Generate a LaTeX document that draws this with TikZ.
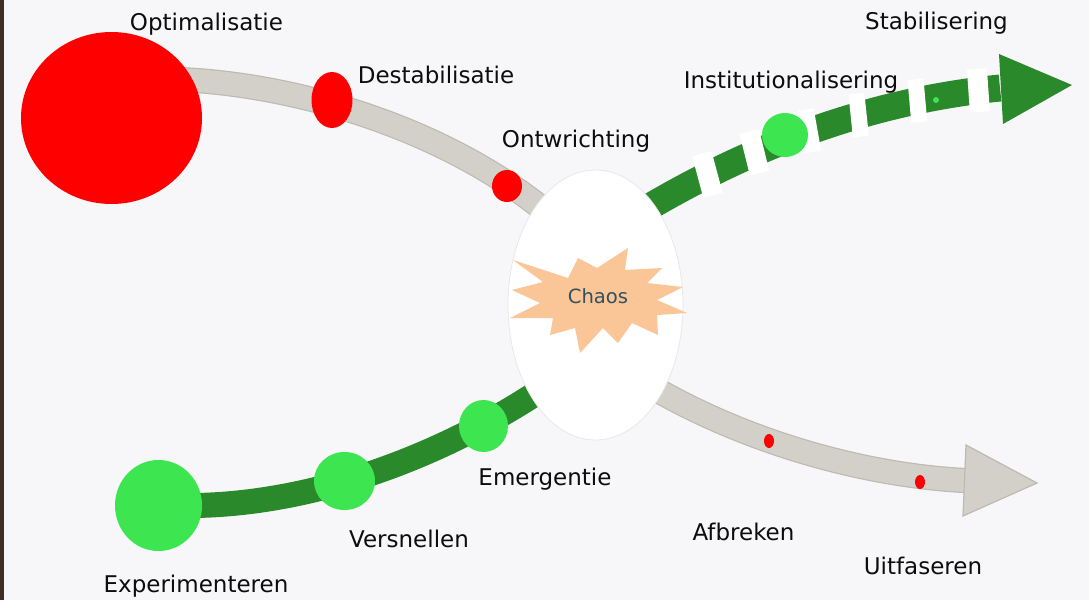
\documentclass[tikz,border=0pt]{standalone}
\usepackage{fontspec}
\setmainfont{DejaVu Sans}
\usetikzlibrary{shapes.geometric}
\definecolor{bgc}{HTML}{F7F6F9}
\definecolor{stripc}{HTML}{3E2E24}
\definecolor{redc}{HTML}{FF0000}
\definecolor{greenc}{HTML}{3DE651}
\definecolor{dgreen}{HTML}{2A8A2B}
\definecolor{grayband}{HTML}{D3D0C9}
\definecolor{grayedge}{HTML}{BDBAB2}
\definecolor{peach}{HTML}{FAC698}
\definecolor{chaostext}{HTML}{34505C}
\pgfdeclarelayer{bands}
\pgfsetlayers{bands,main}
\begin{document}
\begin{tikzpicture}[x=0.5pt,y=-0.5pt,
  dot/.style={ellipse, inner sep=0pt, outer sep=0pt, draw=none},
  reddot/.style={dot, fill=redc},
  greendot/.style={dot, fill=greenc},
  lbl/.style={anchor=base, font=\fontsize{11.5}{14}\selectfont, text=black!95, inner sep=0pt},
  gband/.style={line width=12.5pt, draw=dgreen},
  grayb/.style={draw=grayedge, line width=0.6pt, double=grayband, double distance=11.4pt},
  dashbox/.style={rectangle, fill=white, draw=none, inner sep=0pt, minimum width=8pt, minimum height=21.5pt}
]
\useasboundingbox (0,0) rectangle (1089,600);
\begin{pgfonlayer}{bands}
\fill[bgc] (0,0) rectangle (1089,600);
\fill[stripc] (0,0) rectangle (4,600);
\end{pgfonlayer}

% nodes
\node[reddot, minimum width=90.5pt, minimum height=86pt] (opt) at (111.5,118) {};
\node[reddot, minimum width=20.5pt, minimum height=28pt] (destab) at (332,100) {};
\node[reddot, minimum width=15pt, minimum height=16pt] (ontw) at (507,186) {};
\node[ellipse, fill=white, draw=gray!18, line width=0.4pt, inner sep=0pt, outer sep=0pt,
      minimum width=87.5pt, minimum height=135pt] (chaos) at (595.5,305) {};
\fill[peach] (513,260) -- (568,278) -- (578,258) -- (597,268) -- (628,248) -- (625,270)
  -- (662,268) -- (647,283) -- (683,287) -- (657,300) -- (687,313) -- (657,315)
  -- (658,335) -- (632,323) -- (618,343) -- (603,328) -- (580,353) -- (575,328)
  -- (550,335) -- (553,318) -- (510,318) -- (540,303) -- (512,290) -- (543,282) -- cycle;
\node[anchor=base, inner sep=0pt, font=\fontsize{9.8}{12}\selectfont, text=chaostext] (chaostxt) at (598,303) {Chaos};
\node[greendot, minimum width=43.5pt, minimum height=45.5pt] (exp) at (158.5,505.5) {};
\node[greendot, minimum width=30.5pt, minimum height=29pt] (vers) at (344.5,481) {};
\node[greendot, minimum width=24.5pt, minimum height=26pt] (emer) at (483.5,426) {};
\node[reddot, minimum width=5pt, minimum height=7pt] (afbdot) at (769,441) {};
\node[reddot, minimum width=5pt, minimum height=7pt] (uitdot) at (920,482) {};

\coordinate (gtbase) at (1000,88);
\coordinate (gttip) at (1072,85);
\coordinate (gybase) at (964.5,480.5);
\coordinate (gytip) at (1037,483);

\begin{pgfonlayer}{bands}
% gray top band
\draw[grayb, shorten <=-6pt, shorten >=-10pt] (opt.25) .. controls (300,85) and (450,130) .. (chaos.120);
% gray bottom band with arrow
\draw[grayb, shorten <=-10pt] (chaos.307) .. controls (740,440) and (860,475) .. (gybase);
\filldraw[fill=grayband, draw=grayedge, line width=0.6pt] (966,445) -- (963,516) -- (gytip) -- cycle;
% green bottom band
\draw[gband, shorten <=-6pt, shorten >=-10pt] (exp.east) .. controls (300,505) and (430,465) .. (chaos.235);
% green top band with dashes and arrow
\draw[gband, line width=13.5pt, shorten <=-10pt] (chaos.60) .. controls (760,140) and (880,100) .. (gtbase)
  node[dashbox, pos=0.165, rotate=15, minimum width=10pt] (d1) {}
  node[dashbox, pos=0.305, rotate=14, minimum width=10pt] (d2) {}
  node[dashbox, pos=0.465, rotate=10] (d3) {}
  node[dashbox, pos=0.605, rotate=6] (d4) {}
  node[dashbox, pos=0.77, rotate=5] (d5) {}
  node[dashbox, pos=0.94, rotate=4, minimum width=10pt] (d6) {};
\fill[dgreen] (999,54) -- (1003,124) -- (gttip) -- cycle;
\end{pgfonlayer}

\node[greendot, minimum width=23pt, minimum height=22pt] (inst) at (785,135) {};
\node[greendot, minimum size=3pt] (stabdot) at (936,100) {};

% labels
\node[lbl] (l-opt) at (206.5,30) {Optimalisatie};
\node[lbl] (l-destab) at (436,83) {Destabilisatie};
\node[lbl] (l-ontw) at (576,147) {Ontwrichting};
\node[lbl] (l-inst) at (791,88) {Institutionalisering};
\node[lbl] (l-stab) at (936.5,29) {Stabilisering};
\node[lbl] (l-emer) at (545,485) {Emergentie};
\node[lbl] (l-vers) at (409,547) {Versnellen};
\node[lbl] (l-exp) at (196,592) {Experimenteren};
\node[lbl] (l-afbr) at (743.5,540) {Afbreken};
\node[lbl] (l-uitf) at (923,574) {Uitfaseren};
\end{tikzpicture}
\end{document}
